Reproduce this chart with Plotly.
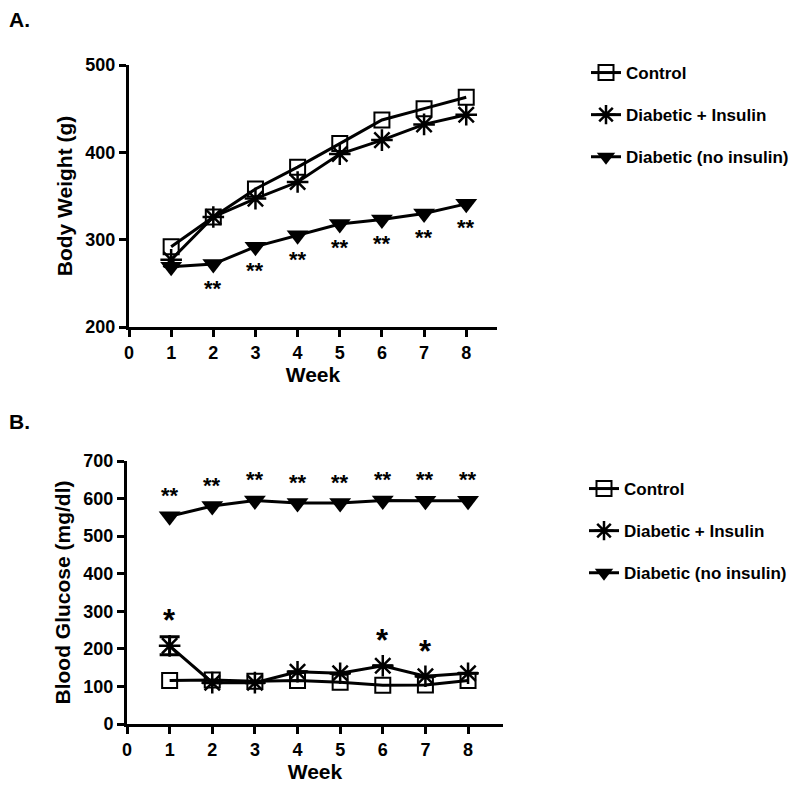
import plotly.graph_objects as go

weeks = [1, 2, 3, 4, 5, 6, 7, 8]

# Panel A: body weight (g)
bw_control = [292, 326, 358, 383, 410, 437, 450, 463]
bw_insulin = [277, 326, 347, 366, 398, 414, 432, 443]
bw_noins = [269, 272, 292, 305, 318, 323, 330, 341]
bw_sig_weeks = [2, 3, 4, 5, 6, 7, 8]

# Panel B: blood glucose (mg/dl)
bg_control = [116, 117, 114, 116, 111, 103, 104, 116]
bg_insulin = [208, 110, 110, 139, 135, 155, 127, 135]
bg_insulin_err = [24, 0, 0, 0, 0, 0, 0, 0]
bg_noins = [553, 580, 595, 588, 588, 595, 594, 594]
bg_dbl_weeks = [1, 2, 3, 4, 5, 6, 7, 8]
bg_single_weeks = [1, 6, 7]

FONT = "Liberation Sans"
W, H = 800, 793
OFF = 8  # default page body margin

def px_x(p):
    return (p - OFF) / W

def px_y(p):
    return 1 - (p - OFF) / H

names = ["Control", "Diabetic + Insulin", "Diabetic (no insulin)"]
markers = [
    dict(symbol="square-open", size=15, color="black", line=dict(width=2, color="black")),
    dict(symbol="asterisk-open", size=18, color="black", line=dict(width=2.5, color="black")),
    dict(symbol="triangle-down", size=19, color="black", line=dict(width=0, color="black")),
]

fig = go.Figure()

for i, (ys, nm) in enumerate(zip([bw_control, bw_insulin, bw_noins], names)):
    fig.add_trace(go.Scatter(
        x=weeks, y=ys, name=nm, mode="lines+markers",
        line=dict(color="black", width=3), marker=markers[i],
        xaxis="x", yaxis="y", legend="legend", legendgroup="a%d" % i,
        cliponaxis=False))

for i, (ys, nm) in enumerate(zip([bg_control, bg_insulin, bg_noins], names)):
    err = None
    if i == 1:
        err = dict(type="data", array=bg_insulin_err, visible=True,
                   color="black", thickness=3, width=10)
    fig.add_trace(go.Scatter(
        x=weeks, y=ys, name=nm, mode="lines+markers",
        line=dict(color="black", width=3), marker=markers[i],
        error_y=err,
        xaxis="x2", yaxis="y2", legend="legend2", legendgroup="b%d" % i,
        cliponaxis=False))

starfont = dict(size=22, family=FONT, color="black", weight="bold")
bigstar = dict(size=31, family=FONT, color="black", weight="bold")
ann = []
for w in bw_sig_weeks:
    ann.append(dict(x=w, y=bw_noins[w - 1], xref="x", yref="y", text="**",
                    showarrow=False, yshift=-24, font=starfont))
for w in bg_dbl_weeks:
    ann.append(dict(x=w, y=bg_noins[w - 1], xref="x2", yref="y2", text="**",
                    showarrow=False, yshift=21, font=starfont))
for w in bg_single_weeks:
    ann.append(dict(x=w, y=bg_insulin[w - 1], xref="x2", yref="y2", text="*",
                    showarrow=False, yshift=25, font=bigstar))

labfont = dict(size=21, family=FONT, color="black", weight="bold")
ann.append(dict(x=px_x(7), y=px_y(20), xref="paper", yref="paper", text="A.",
                showarrow=False, xanchor="left", yanchor="middle", font=labfont))
ann.append(dict(x=px_x(7), y=px_y(421), xref="paper", yref="paper", text="B.",
                showarrow=False, xanchor="left", yanchor="middle", font=labfont))

tickfont = dict(size=18, family=FONT, color="black", weight="bold")
titlefont = dict(size=21, family=FONT, color="black", weight="bold")

def xax(domain, anchor, rng):
    return dict(domain=domain, anchor=anchor, range=rng, tickmode="array",
                tickvals=[0, 1, 2, 3, 4, 5, 6, 7, 8], showline=True, linewidth=3,
                linecolor="black", ticks="outside", tickwidth=3, ticklen=7,
                tickcolor="black", showgrid=False, zeroline=False, tickfont=tickfont,
                automargin=False,
                title=dict(text="Week", font=titlefont, standoff=6))

def yax(domain, anchor, rng, dtick, title):
    return dict(domain=domain, anchor=anchor, range=rng, dtick=dtick, showline=True,
                linewidth=3, linecolor="black", ticks="outside", tickwidth=3, ticklen=7,
                tickcolor="black", showgrid=False, zeroline=False, tickfont=tickfont,
                automargin=False,
                title=dict(text=title, font=titlefont, standoff=8))

legfont = dict(size=17, family=FONT, color="black", weight="bold")

fig.update_layout(
    width=W, height=H, plot_bgcolor="white", paper_bgcolor="white",
    margin=dict(l=0, r=0, t=0, b=0, autoexpand=False), showlegend=True,
    font=dict(family=FONT, color="black"),
    xaxis=xax([px_x(129), px_x(497)], "y", [0, 8.73]),
    yaxis=yax([px_y(327), px_y(65)], "x", [200, 500], 100, "Body Weight (g)"),
    xaxis2=xax([px_x(127), px_x(503)], "y2", [0, 8.82]),
    yaxis2=yax([px_y(724), px_y(461)], "x2", [0, 700], 100, "Blood Glucose (mg/dl)"),
    legend=dict(x=px_x(586), y=px_y(55), xanchor="left", yanchor="top",
                font=legfont, tracegroupgap=17, bgcolor="rgba(0,0,0,0)"),
    legend2=dict(x=px_x(584), y=px_y(471), xanchor="left", yanchor="top",
                 font=legfont, tracegroupgap=17, bgcolor="rgba(0,0,0,0)"),
    annotations=ann,
)

fig.write_html("out.html")
